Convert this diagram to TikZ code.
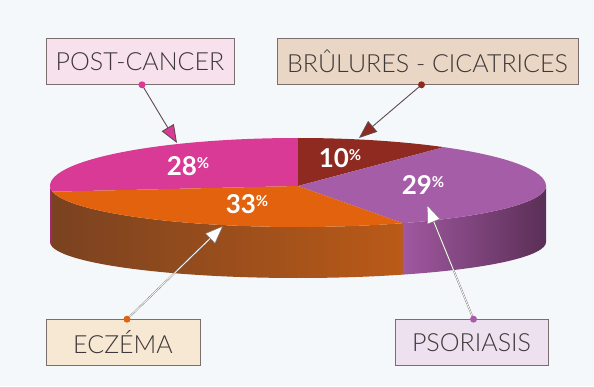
\documentclass[tikz,border=0pt]{standalone}
\usepackage{fontspec}
\setmainfont{Lato}[UprightFont=* Light, BoldFont=* Bold]
\usetikzlibrary{arrows.meta}
\definecolor{bgcol}{HTML}{F5F8FB}
\definecolor{boxline}{HTML}{7A6E6E}
\definecolor{textcol}{HTML}{3E3838}
\definecolor{pinktop}{HTML}{D93A95}
\definecolor{pinkside}{HTML}{9E2A6A}
\definecolor{redtop}{HTML}{8E2A20}
\definecolor{purpletop}{HTML}{A55DA8}
\definecolor{orangetop}{HTML}{E2620E}
\definecolor{brownside}{HTML}{7A4220}
\definecolor{rustside}{HTML}{BA5A18}
\definecolor{lilacside}{HTML}{A058A0}
\definecolor{plumside}{HTML}{5A2F56}
\definecolor{postfill}{HTML}{F7E1EC}
\definecolor{brulfill}{HTML}{EAD6C4}
\definecolor{eczfill}{HTML}{F6E8D3}
\definecolor{psofill}{HTML}{EEE1EF}
\definecolor{darkline}{HTML}{5E4A4E}
\newcommand{\pct}[1]{{\fontsize{26}{26}\selectfont #1}\raisebox{7pt}{\fontsize{15}{15}\selectfont\%}}

\begin{document}
\begin{tikzpicture}[x=1pt,y=1pt,
          tagbox/.style={
            draw=boxline,
            line width=0.6pt,
            minimum height=46pt,
            inner sep=0pt,
            text=textcol,
            font=\fontsize{25}{25}\selectfont,
          },
          slicetext/.style={text=white, font=\bfseries, inner sep=0pt},
          pointer/.style={line width=0.9pt, draw=darkline,
            -{Triangle[length=18pt,width=14pt,fill=#1]}},
          lightpointer/.style={draw=boxline, double=white, double distance=0.8pt,
            -{Triangle[length=18pt,width=14pt,fill=white]}},
        ]
          \fill[bgcol] (0,0) rectangle (594,386);
          \coordinate (top) at (298,200);
          \coordinate (bot) at (298,144);
          % sides
          \fill[pinkside] ([shift={(180:248 and 41)}]top) arc[start angle=180,end angle=188,x radius=248,y radius=41]
            -- ([shift={(188:248 and 36)}]bot) arc[start angle=188,end angle=180,x radius=248,y radius=36] -- cycle;
          \shade[left color=brownside, right color=rustside]
            ([shift={(188:248 and 41)}]top) arc[start angle=188,end angle=295,x radius=248,y radius=41]
            -- ([shift={(295:248 and 36)}]bot) arc[start angle=295,end angle=188,x radius=248,y radius=36] -- cycle;
          \shade[left color=lilacside, right color=plumside]
            ([shift={(295:248 and 41)}]top) arc[start angle=295,end angle=360,x radius=248,y radius=41]
            -- ([shift={(0:248 and 36)}]bot) arc[start angle=360,end angle=295,x radius=248,y radius=36] -- cycle;
          % top
          \fill[pinktop] (top) -- ([shift={(90:248 and 48)}]top) arc[start angle=90,end angle=180,x radius=248,y radius=48]
            arc[start angle=180,end angle=188,x radius=248,y radius=41] -- cycle;
          \fill[redtop] (top) -- ([shift={(54:248 and 48)}]top) arc[start angle=54,end angle=90,x radius=248,y radius=48] -- cycle;
          \fill[purpletop] (top) -- ([shift={(-65:248 and 41)}]top) arc[start angle=-65,end angle=0,x radius=248,y radius=41]
            arc[start angle=0,end angle=54,x radius=248,y radius=48] -- cycle;
          \fill[orangetop] (top) -- ([shift={(188:248 and 41)}]top) arc[start angle=188,end angle=295,x radius=248,y radius=41] -- cycle;
          % shares
          \node[slicetext] (s28) at (188,220) {\pct{28}};
          \node[slicetext] (s10) at (340,228) {\pct{10}};
          \node[slicetext] (s29) at (423,201) {\pct{29}};
          \node[slicetext] (s33) at (247,182) {\pct{33}};
          % boxes
          \node[tagbox, fill=postfill, minimum width=188pt] (post) at (140,324.5) {POST-CANCER};
          \node[tagbox, fill=brulfill, minimum width=301pt] (brul) at (427.5,324.5) {BRÛLURES - CICATRICES};
          \node[tagbox, fill=eczfill, minimum width=154pt] (ecz) at (123,43.5) {ECZÉMA};
          \node[tagbox, fill=psofill, minimum width=153pt] (pso) at (471.5,43.5) {PSORIASIS};
          \coordinate (tpost) at (177,243);
          \coordinate (tbrul) at (359,248);
          \coordinate (tecz) at (223,160);
          \coordinate (tpso) at (427,181);
          \draw
              ([xshift=2pt]post.south) edge [pointer=pinktop] (tpost)
              ([xshift=-6pt]brul.south) edge [pointer=redtop] (tbrul)
              ([xshift=4pt]ecz.north) edge [lightpointer] (tecz)
              ([xshift=2pt]pso.north) edge [lightpointer] (tpso);
          \fill[pinktop] ([xshift=2pt]post.south) circle (3.5pt);
          \fill[redtop] ([xshift=-6pt]brul.south) circle (3.5pt);
          \fill[orangetop] ([xshift=4pt]ecz.north) circle (3.5pt);
          \fill[purpletop] ([xshift=2pt]pso.north) circle (3.5pt);
        \end{tikzpicture}
\end{document}
